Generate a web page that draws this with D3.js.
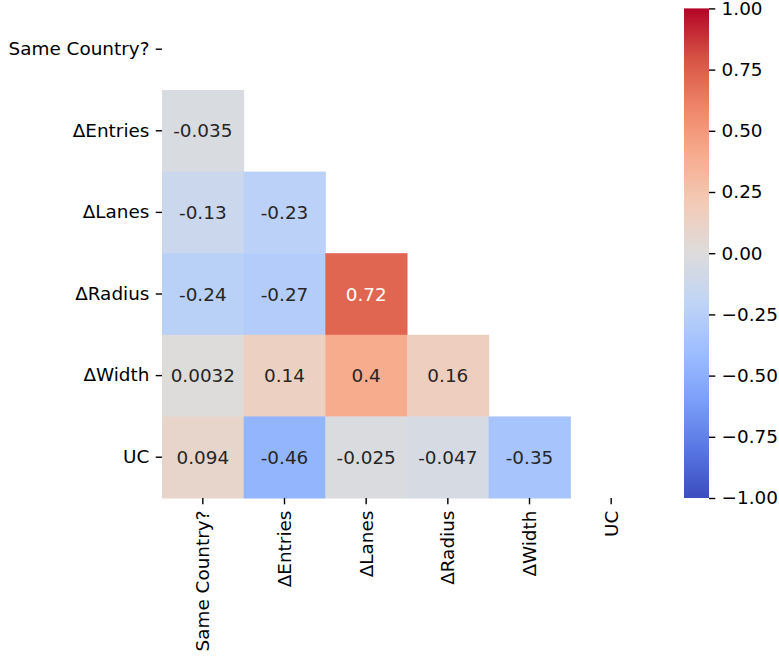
<!DOCTYPE html>
<html><head><meta charset="utf-8">
<script src="https://cdn.jsdelivr.net/npm/d3@7/dist/d3.min.js"></script>
<style>body{margin:0;background:#fff}svg{display:block;font-family:"DejaVu Sans",sans-serif}</style>
</head><body><svg id="c" width="779" height="657"></svg>
<script>
const labels = ["Same Country?","ΔEntries","ΔLanes","ΔRadius","ΔWidth","UC"];
// lower-triangle correlation values (row i, columns 0..i-1)
const rowEntries = [-0.035];
const rowLanes = [-0.13, -0.23];
const rowRadius = [-0.24, -0.27, 0.72];
const rowWidth = [0.0032, 0.14, 0.4, 0.16];
const rowUC = [0.094, -0.46, -0.025, -0.047, -0.35];
const triRows = [[], rowEntries, rowLanes, rowRadius, rowWidth, rowUC];
const cbarTicks = [-1, -0.75, -0.5, -0.25, 0, 0.25, 0.5, 0.75, 1];
const coolwarm = ['#3b4cc0','#5977e3','#7b9ff9','#9ebeff','#c0d4f5','#dddcdc','#f2cbb7','#f7ac8e','#ee8468','#d65244','#b40426'];

const svg = d3.select("#c");
const FS = 18.4;
const x = d3.scaleBand().domain(labels).range([162, 652]);
const y = d3.scaleBand().domain(labels).range([8.4, 498]);
const color = d3.scaleLinear().domain(d3.range(11).map(i => -1 + i * 0.2)).range(coolwarm).interpolate(d3.interpolateRgb).clamp(true);

const cells = [];
triRows.forEach((r, i) => r.forEach((v, j) => cells.push({row: labels[i], col: labels[j], v})));

svg.append("g").selectAll("rect").data(cells).join("rect")
  .attr("x", d => x(d.col)).attr("y", d => y(d.row))
  .attr("width", x.bandwidth() + 0.5).attr("height", y.bandwidth() + 0.5)
  .attr("fill", d => color(d.v));

function lum(c){
  const rgb = d3.rgb(c);
  const f = u => { u /= 255; return u <= 0.03928 ? u / 12.92 : Math.pow((u + 0.055) / 1.055, 2.4); };
  return 0.2126 * f(rgb.r) + 0.7152 * f(rgb.g) + 0.0722 * f(rgb.b);
}
const fmt = d3.formatLocale({decimal: ".", thousands: ",", grouping: [3], currency: ["", ""], minus: "-"}).format(".2~g");
svg.append("g").selectAll("text").data(cells).join("text")
  .attr("x", d => x(d.col) + x.bandwidth() / 2)
  .attr("y", d => y(d.row) + y.bandwidth() / 2)
  .attr("text-anchor", "middle").attr("dominant-baseline", "central")
  .attr("font-size", FS)
  .attr("fill", d => lum(color(d.v)) > 0.408 ? "#262626" : "#ffffff")
  .text(d => fmt(d.v));

// axes
const tickLen = 6.3, pad = 6.3;
const yAxis = d3.axisLeft(y).tickSize(tickLen).tickPadding(pad);
const gy = svg.append("g").attr("transform", "translate(162,0)").call(yAxis);
gy.select(".domain").remove();
gy.selectAll("line").attr("stroke", "#000").attr("stroke-width", 1.4);
gy.selectAll("text").attr("font-size", FS).attr("fill", "#000").attr("font-family", "DejaVu Sans");

const xAxis = d3.axisBottom(x).tickSize(tickLen).tickPadding(pad);
const gx = svg.append("g").attr("transform", "translate(0,498)").call(xAxis);
gx.select(".domain").remove();
gx.selectAll("line").attr("stroke", "#000").attr("stroke-width", 1.4);
gx.selectAll("text").attr("font-size", FS).attr("fill", "#000").attr("font-family", "DejaVu Sans")
  .attr("transform", "rotate(-90)")
  .attr("text-anchor", "end").attr("dy", "0.35em")
  .attr("x", -(tickLen + pad)).attr("y", 0);

// colorbar
const cb = d3.scaleLinear().domain([-1, 1]).range([498, 8.4]);
const defs = svg.append("defs");
const grad = defs.append("linearGradient").attr("id", "cbg").attr("x1", 0).attr("x2", 0).attr("y1", 1).attr("y2", 0);
grad.selectAll("stop").data(d3.range(0, 1.0001, 0.02)).join("stop")
  .attr("offset", d => d).attr("stop-color", d => color(-1 + 2 * d));
svg.append("rect").attr("x", 684).attr("y", 8.4).attr("width", 25).attr("height", 498 - 8.4).attr("fill", "url(#cbg)");
const cAxis = d3.axisRight(cb).tickValues(cbarTicks).tickFormat(d3.format(".2f")).tickSize(tickLen).tickPadding(pad);
const gc = svg.append("g").attr("transform", "translate(709,0)").call(cAxis);
gc.select(".domain").remove();
gc.selectAll("line").attr("stroke", "#000").attr("stroke-width", 1.4);
gc.selectAll("text").attr("font-size", FS).attr("fill", "#000").attr("font-family", "DejaVu Sans");
</script></body></html>
